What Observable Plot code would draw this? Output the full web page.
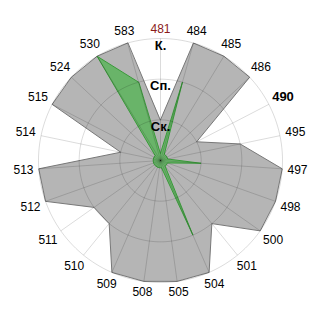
<!DOCTYPE html>
<html><head><meta charset="utf-8">
<script src="https://cdn.jsdelivr.net/npm/d3@7"></script>
<script src="https://cdn.jsdelivr.net/npm/@observablehq/plot@0.6"></script>
<style>body{margin:0;background:#fff;font-family:"Liberation Sans",Arial,sans-serif}</style>
</head><body><div id="chart"></div>
<script>
const categories = ["481","484","485","486","490","495","497","498","500","501","504","505","508","509","510","511","512","513","514","515","524","530","583"];
const grayValues = [1,3,3,3,1,2,3,3,3,2,3,3,3,3,2,2,3,3,1,3,3,3,3];
const greenValues = [0.18,2,0.18,0.18,0.18,0.18,1,0.18,0.18,0.18,2,0.18,0.18,0.18,0.18,0.18,0.18,0.18,0.18,0.18,0.18,3,2];
const levels = [1,2,3];
const levelLabels = ["Ск.","Сп.","К."];

const N = categories.length;
const DEG = 10;            // degrees of arc per unit
const RPX = 122;           // outer radius in px
const pxDeg = 3 * DEG / RPX;
const theta = c => categories.indexOf(c) * 2 * Math.PI / N;
const lon = c => 180 - categories.indexOf(c) * 360 / N;
const rows = vals => categories.map((c, i) => ({c, v: vals[i]}));
const labelLat = c => {
  const t = theta(c);
  return 90 - pxDeg * (127 + Math.abs(Math.sin(t)) * 10 + Math.abs(Math.cos(t)) * 4.5);
};
const grid = {stroke: "#000", strokeOpacity: 0.14, strokeWidth: 1};

const chart = Plot.plot({
  width: 320, height: 320, margin: 0, inset: 0,
  style: {fontFamily: "Liberation Sans, Arial, sans-serif", background: "#fff"},
  projection: {
    type: "azimuthal-equidistant",
    rotate: [0, -90],
    domain: d3.geoCircle().center([0, 90]).radius(160 * pxDeg)()
  },
  marks: [
    Plot.line(rows(grayValues), {x: d => lon(d.c), y: d => 90 - d.v * DEG, curve: "linear-closed", fill: "#b5b5b5", stroke: "#787878", strokeWidth: 1}),
    Plot.line(rows(greenValues), {x: d => lon(d.c), y: d => 90 - d.v * DEG, curve: "linear-closed", fill: "#69b469", stroke: "#3a9a3a", strokeWidth: 1}),
    Plot.geo(levels, {geometry: l => d3.geoCircle().center([0, 90]).radius(l * DEG).precision(2)(), fill: "none", ...grid}),
    Plot.link(categories, {x1: lon, y1: 90 - 3 * DEG, x2: 0, y2: 90, ...grid}),
    Plot.text(categories.filter(d => d !== "490"), {
      x: lon, y: labelLat, text: d => d, fontSize: 12,
      fill: d => d === "481" ? "#8b1a1a" : "#000"
    }),
    Plot.text(categories.filter(d => d === "490"), {x: lon, y: labelLat, text: d => d, fontSize: 13, fontWeight: "bold", fill: "#000"}),
    Plot.text(levels, {x: 180, y: l => 90 - (l - 0.17) * DEG, text: (l, i) => levelLabels[i], fontSize: 13, fontWeight: "bold", fill: "#000"})
  ]
});
document.getElementById("chart").append(chart);
</script>
</body></html>
